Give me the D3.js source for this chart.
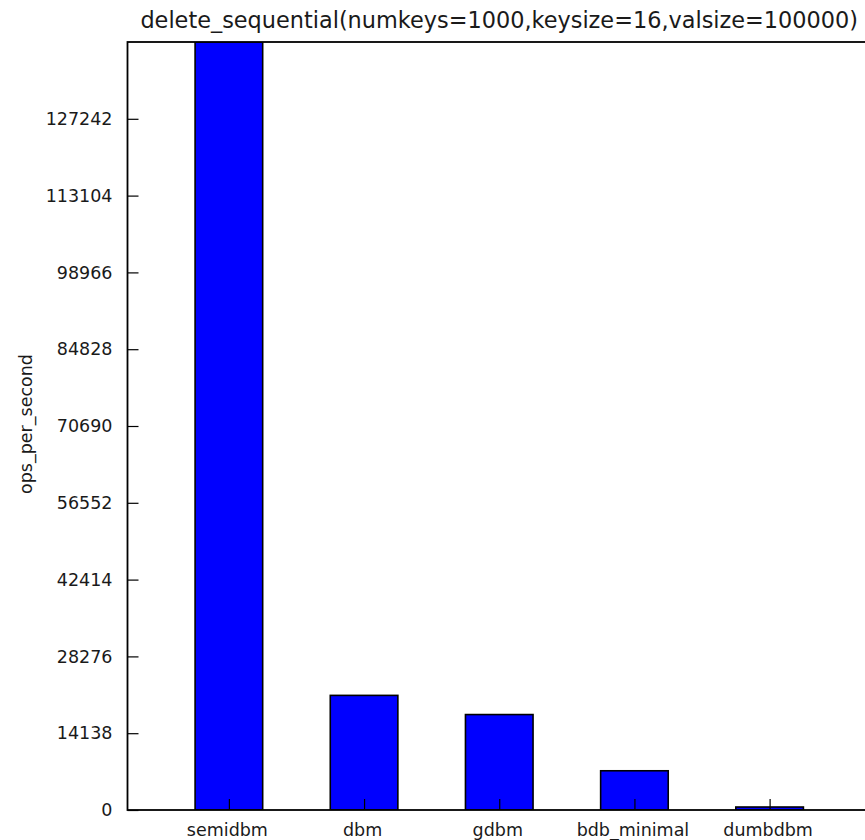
<!DOCTYPE html>
<html>
<head>
<meta charset="utf-8">
<script src="https://cdn.jsdelivr.net/npm/d3@7"></script>
<style>
  html, body { margin: 0; padding: 0; background: #fff; }
  svg { display: block; font-family: "DejaVu Sans", sans-serif; }
</style>
</head>
<body>
<svg id="chart" width="865" height="840"></svg>
<script>
// Benchmark results: sequential delete throughput per backend
const title = "delete_sequential(numkeys=1000,keysize=16,valsize=100000)";
const yLabel = "ops_per_second";
const categories = ["semidbm", "dbm", "gdbm", "bdb_minimal", "dumbdbm"];
const opsPerSecond = [141380, 21100, 17570, 7220, 550];
const yTicks = [0, 14138, 28276, 42414, 56552, 70690, 84828, 98966, 113104, 127242];
const yMax = 141380;

const svg = d3.select("#chart");
const margin = { left: 127.5, right: -6, top: 42, bottom: 30 };
const W = 865, H = 840;
const x0 = margin.left, x1 = W - margin.right, y0 = margin.top, y1 = H - margin.bottom;

// Bar slots: width 0.5 of the spacing, 0.75 spacing padding at each end
const x = d3.scaleLinear()
  .domain([-0.75, categories.length - 1 + 0.75])
  .range([x0, x1]);
const barW = x(0.5) - x(0);

const y = d3.scaleLinear().domain([0, yMax]).range([y1, y0]);

svg.append("clipPath").attr("id", "plot-clip")
  .append("rect").attr("x", x0).attr("y", y0).attr("width", x1 - x0).attr("height", y1 - y0);

// Bars
svg.append("g").attr("clip-path", "url(#plot-clip)")
  .selectAll("rect").data(categories).join("rect")
  .attr("x", (d, i) => x(i) - barW / 2)
  .attr("y", (d, i) => y(opsPerSecond[i]))
  .attr("width", barW)
  .attr("height", (d, i) => y(0) - y(opsPerSecond[i]))
  .attr("fill", "#0000ff")
  .attr("stroke", "#000")
  .attr("stroke-width", 1.6);

// Y axis: inward ticks
const yAxis = d3.axisLeft(y).tickValues(yTicks).tickFormat(d3.format("d"))
  .tickSizeInner(-11).tickSizeOuter(0).tickPadding(15);
const gy = svg.append("g").attr("transform", `translate(${x0},0)`).call(yAxis);
gy.select(".domain").remove();
gy.selectAll(".tick line").attr("stroke", "#000").attr("stroke-width", 1.2);
gy.selectAll(".tick text").attr("font-size", 17.5).attr("fill", "#1a1a1a")
  .attr("font-family", "DejaVu Sans");

// X axis: inward ticks at bar centres
const xAxis = d3.axisBottom(x).tickValues(d3.range(categories.length))
  .tickFormat(i => categories[i])
  .tickSizeInner(-11).tickSizeOuter(0).tickPadding(14);
const gx = svg.append("g").attr("transform", `translate(0,${y1})`).call(xAxis);
gx.select(".domain").remove();
gx.selectAll(".tick line").attr("stroke", "#000").attr("stroke-width", 1.2);
gx.selectAll(".tick text").attr("font-size", 17.5).attr("fill", "#1a1a1a")
  .attr("font-family", "DejaVu Sans")
  .attr("dx", -2);

// Frame
svg.append("rect")
  .attr("x", x0).attr("y", y0).attr("width", x1 - x0).attr("height", y1 - y0)
  .attr("fill", "none").attr("stroke", "#000").attr("stroke-width", 1.8);

// Title
svg.append("text")
  .attr("x", (x0 + x1) / 2).attr("y", 27.5)
  .attr("text-anchor", "middle")
  .attr("font-size", 22.4).attr("fill", "#1a1a1a")
  .text(title);

// Y label
svg.append("text")
  .attr("transform", `translate(32,${(y0 + y1) / 2 - 2}) rotate(-90)`)
  .attr("text-anchor", "middle")
  .attr("font-size", 17.5).attr("fill", "#1a1a1a")
  .text(yLabel);
</script>
</body>
</html>
